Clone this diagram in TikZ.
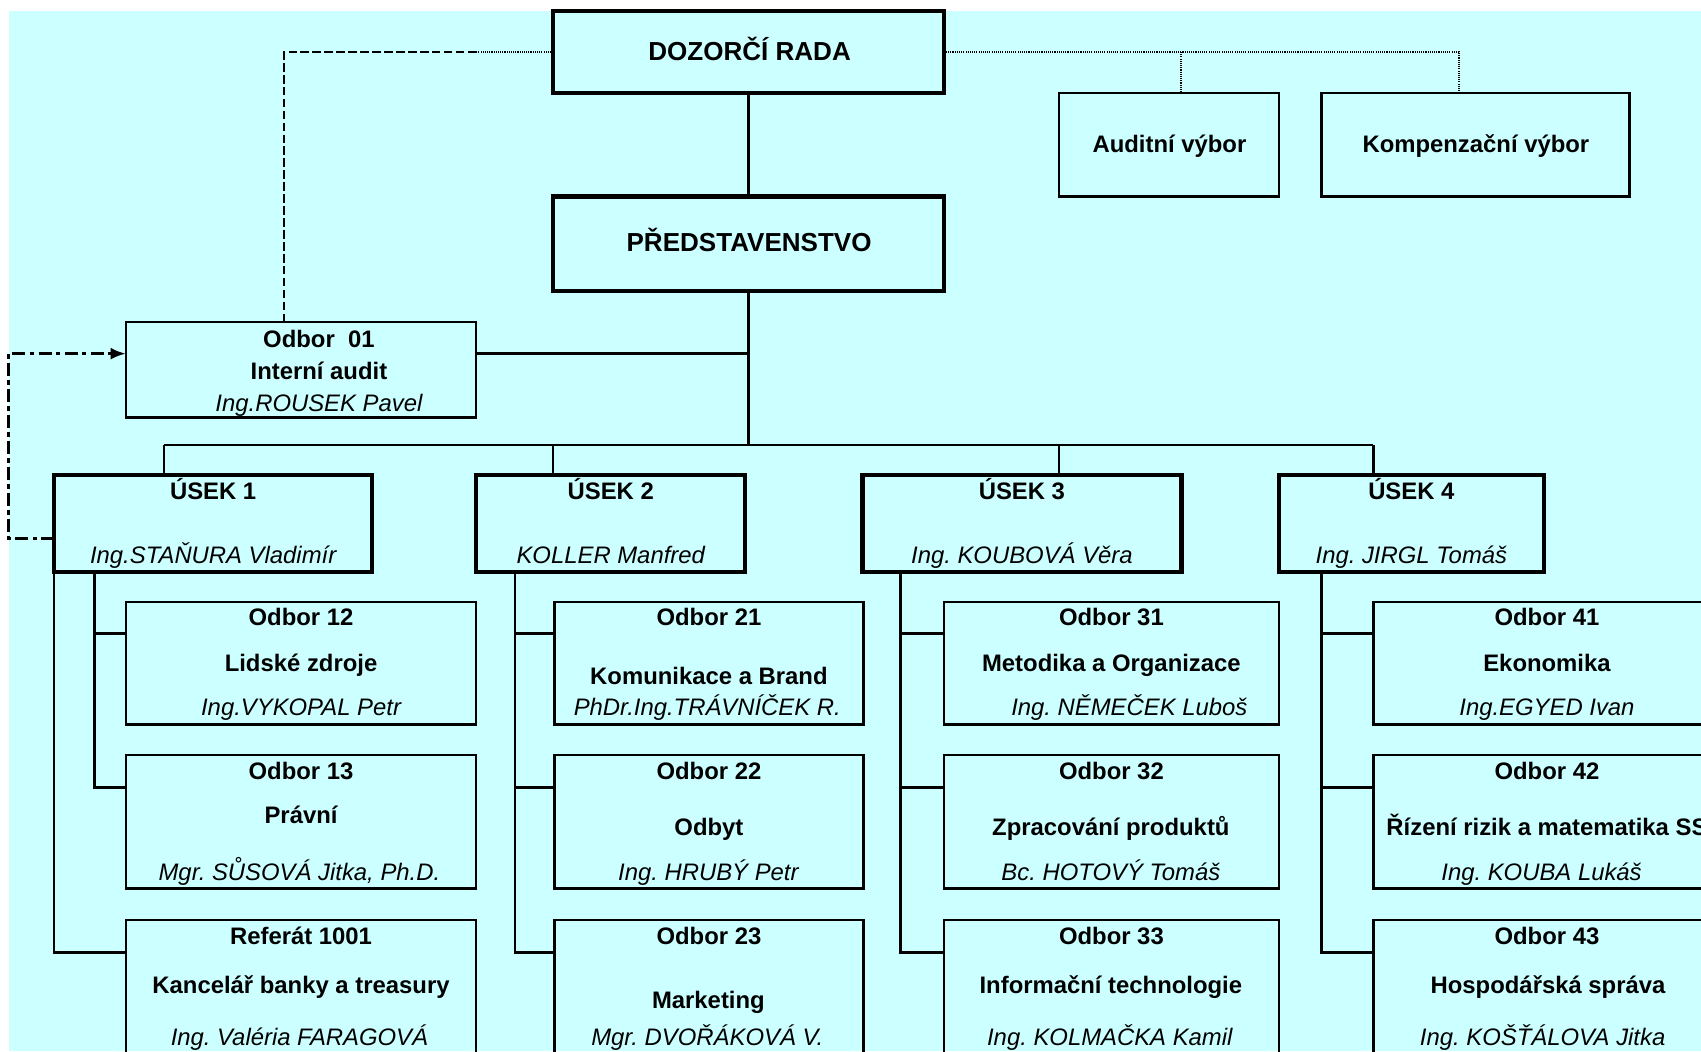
\documentclass[tikz,border=0pt]{standalone}
\usepackage{fontspec}
\setmainfont{Liberation Sans}
\usepackage{xcolor}
\usetikzlibrary{arrows.meta}
\definecolor{bgcyan}{RGB}{204,255,255}
\frenchspacing

\begin{document}
\begin{tikzpicture}[x=1pt,y=-1pt,
    box/.style={draw,line width=2.2pt,inner sep=0pt,outer sep=0pt},
    bigbox/.style={draw,line width=4pt,inner sep=0pt,outer sep=0pt},
    conn/.style={line width=2.2pt},
    dotline/.style={line width=1.8pt,dash pattern=on 1pt off 1pt},
    dashline/.style={line width=2.2pt,dash pattern=on 8pt off 3pt},
    dashdotline/.style={line width=2.6pt,dash pattern=on 12pt off 4pt on 4pt off 4pt},
    title/.style={anchor=base,font=\bfseries\fontsize{24}{28}\selectfont},
    head/.style={anchor=base,font=\bfseries\fontsize{22}{26}\selectfont},
    person/.style={anchor=base,font=\itshape\fontsize{22}{26}\selectfont}]
    \useasboundingbox (0,0) rectangle (1568,969);
    \clip (0,0) rectangle (1568,969);
    \fill[bgcyan] (8,10) rectangle (1568,969);

    % top of the chart
    \node[bigbox,minimum width=360pt,minimum height=76pt] (dozor) at (690,48) {};
    \node[bigbox,minimum width=360pt,minimum height=87pt] (pred) at (690,224.5) {};
    \node[box,minimum width=203pt,minimum height=95pt] (audit) at (1077.5,133.5) {};
    \node[box,minimum width=284pt,minimum height=95pt] (komp) at (1360,133.5) {};
    \node[box,minimum width=323pt,minimum height=88pt] (o01) at (277.5,341) {};
    \node[title] (dozor-t) at (691,56) {DOZORČÍ RADA};
    \node[title] (pred-t) at (690.5,232) {PŘEDSTAVENSTVO};
    \node[head] (audit-t) at (1078,141) {Auditní výbor};
    \node[head] (komp-t) at (1360.5,141) {Kompenzační výbor};
    \node[head] (o01-a) at (294,320) {Odbor\ \ 01};
    \node[head] (o01-b) at (294,350) {Interní audit};
    \node[person] (o01-c) at (294,379) {Ing.ROUSEK Pavel};

    % useky
    \node[bigbox,minimum width=293pt,minimum height=89pt] (u1) at (196.5,482.5) {};
    \node[bigbox,minimum width=248pt,minimum height=89pt] (u2) at (563,482.5) {};
    \node[bigbox,minimum width=294pt,minimum height=89pt] (u3) at (942,482.5) {};
    \node[bigbox,minimum width=244pt,minimum height=89pt] (u4) at (1301,482.5) {};
    \node[head] (u1-a) at (196.5,460) {ÚSEK 1};
    \node[person] (u1-b) at (196.5,519) {Ing.STAŇURA Vladimír};
    \node[head] (u2-a) at (563,460) {ÚSEK 2};
    \node[person] (u2-b) at (563,519) {KOLLER Manfred};
    \node[head] (u3-a) at (942,460) {ÚSEK 3};
    \node[person] (u3-b) at (942,519) {Ing. KOUBOVÁ Věra};
    \node[head] (u4-a) at (1301,460) {ÚSEK 4};
    \node[person] (u4-b) at (1301,519) {Ing. JIRGL Tomáš};

    % odbory, first row
    \node[box,minimum width=323pt,minimum height=113pt] (o12) at (277.5,611.5) {};
    \node[box,minimum width=285pt,minimum height=113pt] (o21) at (653.5,611.5) {};
    \node[box,minimum width=309pt,minimum height=113pt] (o31) at (1024.5,611.5) {};
    \node[box,minimum width=320pt,minimum height=113pt] (o41) at (1426,611.5) {};
    \node[head] (o12-a) at (277.5,577) {Odbor 12};
    \node[head] (o12-b) at (277.5,619) {Lidské zdroje};
    \node[person] (o12-c) at (277.5,660) {Ing.VYKOPAL Petr};
    \node[head] (o21-a) at (653.5,577) {Odbor 21};
    \node[head] (o21-b) at (653.5,631) {Komunikace a Brand};
    \node[person] (o21-c) at (652,660) {PhDr.Ing.TRÁVNÍČEK R.};
    \node[head] (o31-a) at (1024.5,577) {Odbor 31};
    \node[head] (o31-b) at (1024.5,619) {Metodika a Organizace};
    \node[person] (o31-c) at (1041,660) {Ing. NĚMEČEK Luboš};
    \node[head] (o41-a) at (1426,577) {Odbor 41};
    \node[head] (o41-b) at (1426,619) {Ekonomika};
    \node[person] (o41-c) at (1426,660) {Ing.EGYED Ivan};

    % second row
    \node[box,minimum width=323pt,minimum height=123pt] (o13) at (277.5,757.5) {};
    \node[box,minimum width=285pt,minimum height=123pt] (o22) at (653.5,757.5) {};
    \node[box,minimum width=309pt,minimum height=123pt] (o32) at (1024.5,757.5) {};
    \node[box,minimum width=320pt,minimum height=123pt] (o42) at (1426,757.5) {};
    \node[head] (o13-a) at (277.5,719) {Odbor 13};
    \node[head] (o13-b) at (277.5,759) {Právní};
    \node[person] (o13-c) at (276,812) {Mgr. SŮSOVÁ Jitka, Ph.D.};
    \node[head] (o22-a) at (653.5,719) {Odbor 22};
    \node[head] (o22-b) at (653.5,770) {Odbyt};
    \node[person] (o22-c) at (653,812) {Ing. HRUBÝ Petr};
    \node[head] (o32-a) at (1024.5,719) {Odbor 32};
    \node[head] (o32-b) at (1024,770) {Zpracování produktů};
    \node[person] (o32-c) at (1024,812) {Bc. HOTOVÝ Tomáš};
    \node[head] (o42-a) at (1426,719) {Odbor 42};
    \node[head] (o42-b) at (1426,770) {Řízení rizik a matematika SS};
    \node[person] (o42-c) at (1421,812) {Ing. KOUBA Lukáš};

    % third row
    \node[box,minimum width=323pt,minimum height=142pt] (r1001) at (277.5,919) {};
    \node[box,minimum width=285pt,minimum height=142pt] (o23) at (653.5,919) {};
    \node[box,minimum width=309pt,minimum height=142pt] (o33) at (1024.5,919) {};
    \node[box,minimum width=320pt,minimum height=142pt] (o43) at (1426,919) {};
    \node[head] (r1001-a) at (277.5,871) {Referát 1001};
    \node[head] (r1001-b) at (277.5,916) {Kancelář banky a treasury};
    \node[person] (r1001-c) at (276,964) {Ing. Valéria FARAGOVÁ};
    \node[head] (o23-a) at (653.5,871) {Odbor 23};
    \node[head] (o23-b) at (653,930) {Marketing};
    \node[person] (o23-c) at (652,964) {Mgr. DVOŘÁKOVÁ V.};
    \node[head] (o33-a) at (1024.5,871) {Odbor 33};
    \node[head] (o33-b) at (1024,916) {Informační technologie};
    \node[person] (o33-c) at (1023,964) {Ing. KOLMAČKA Kamil};
    \node[head] (o43-a) at (1426,871) {Odbor 43};
    \node[head] (o43-b) at (1427,916) {Hospodářská správa};
    \node[person] (o43-c) at (1422,964) {Ing. KOŠŤÁLOVA Jitka};

    % lines of the top part
    \coordinate (ka) at (1089,48);
    \coordinate (kk) at (1345,48);
    \coordinate (kd) at (262,48);
    \draw[conn] (dozor) -- (pred);
    \draw[dotline] (dozor.east) -- (kk) -- (kk |- komp.north);
    \draw[dotline] (ka) -- (ka |- audit.north);
    \draw[dotline] (dozor.west) -- (o01.east |- dozor.west);
    \draw[dashline] (o01.east |- dozor.west) -- (kd) -- (kd |- o01.north);
    \draw[conn] ([yshift=15pt]o01.east) -- ([yshift=15pt]o01.east -| pred.south);
    \draw[dashdotline,-{Latex[length=14pt,width=11pt]}] ([yshift=-14pt]u1.west) -- ++(-42,0) |- ([yshift=15pt]o01.west);

    % bus to the useky
    \coordinate (d1) at (151,410);
    \coordinate (d2) at (510,410);
    \coordinate (d3) at (976,410);
    \coordinate (d4) at (1266,410);
    \draw[conn] (pred.south) -- (pred.south |- d1);
    \draw[conn] (d1) -- (d4);
    \foreach \d/\u in {d1/u1,d2/u2,d3/u3,d4/u4}
        \draw[conn] (\d) -- (\d |- \u.north);

    % useky to odbory
    \draw[conn] ([xshift=37pt]u1.south west) |- ([yshift=-29pt]o12.north west);
    \draw[conn] ([xshift=37pt]u1.south west) |- ([yshift=-30pt]o13.north west);
    \draw[conn] (u1.south west) |- ([yshift=-30pt]r1001.north west);
    \draw[conn] ([xshift=36pt]u2.south west) |- ([yshift=-29pt]o21.north west);
    \draw[conn] ([xshift=36pt]u2.south west) |- ([yshift=-30pt]o22.north west);
    \draw[conn] ([xshift=36pt]u2.south west) |- ([yshift=-30pt]o23.north west);
    \draw[conn] ([xshift=35pt]u3.south west) |- ([yshift=-29pt]o31.north west);
    \draw[conn] ([xshift=35pt]u3.south west) |- ([yshift=-30pt]o32.north west);
    \draw[conn] ([xshift=35pt]u3.south west) |- ([yshift=-30pt]o33.north west);
    \draw[conn] ([xshift=39pt]u4.south west) |- ([yshift=-29pt]o41.north west);
    \draw[conn] ([xshift=39pt]u4.south west) |- ([yshift=-30pt]o42.north west);
    \draw[conn] ([xshift=39pt]u4.south west) |- ([yshift=-30pt]o43.north west);
\end{tikzpicture}
\end{document}
